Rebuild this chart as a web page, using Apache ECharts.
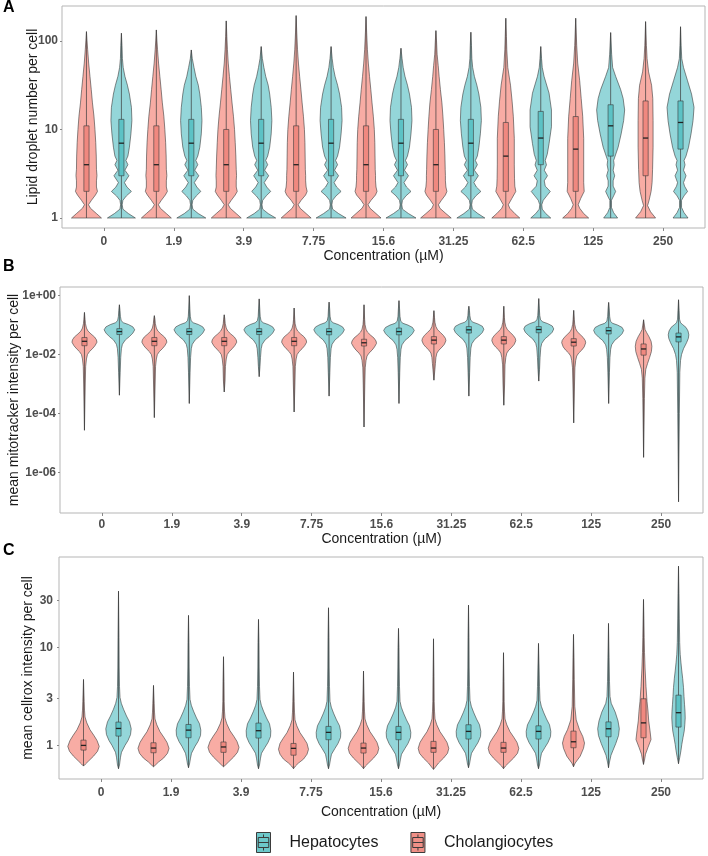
<!DOCTYPE html>
<html><head><meta charset="utf-8">
<script src="https://cdn.jsdelivr.net/npm/echarts@6/dist/echarts.min.js"></script>
<style>html,body{margin:0;padding:0;background:#fff}#c{width:708px;height:856px}</style>
</head><body><div id="c"></div>
<script>
// ---------- DATA ----------
const categories = ['0','1.9','3.9','7.75','15.6','31.25','62.5','125','250'];
const groups = ['Hepatocytes','Cholangiocytes'];

// Violin outlines: [log10(value), relative density]; boxes: [log10 q1, log10 median, log10 q3]
// Panel A : lipid droplet number per cell
const aCholProfiles = [
 [[0,15],[0.05,10],[0.11,4],[0.15,2],[0.2,5],[0.26,9],[0.3,11],[0.35,10],[0.42,10],[0.48,10.5],[0.55,10],[0.7,9.8],[0.85,9.3],[1,8.5],[1.15,7.5],[1.3,6],[1.45,4.8],[1.6,3.5],[1.75,2.2],[1.9,1.2],[2,0.6],[2.105,0]],
 [[0,15],[0.05,10],[0.11,4],[0.15,2],[0.2,5],[0.26,9],[0.3,11],[0.35,10],[0.42,10],[0.48,10.5],[0.55,10],[0.7,9.8],[0.85,9.3],[1,8.5],[1.15,7.5],[1.3,6],[1.45,4.8],[1.6,3.5],[1.75,2.2],[1.9,1.2],[2,0.6],[2.124,0]],
 [[0,15],[0.05,10],[0.11,4],[0.15,2],[0.2,5],[0.26,9],[0.3,11],[0.35,10],[0.42,10],[0.48,10.3],[0.55,10],[0.7,9.6],[0.85,9],[1,8.3],[1.15,7.2],[1.3,5.8],[1.45,4.5],[1.6,3.2],[1.75,2],[1.9,1.2],[2.05,0.6],[2.226,0]],
 [[0,15],[0.05,10],[0.11,4],[0.15,2],[0.2,5],[0.26,9.5],[0.3,11],[0.35,10],[0.42,9.5],[0.48,9.5],[0.55,9.2],[0.7,9],[0.85,8.8],[1,8.3],[1.15,7.3],[1.3,6],[1.45,4.8],[1.6,3.5],[1.75,2.3],[1.9,1.4],[2.1,0.6],[2.286,0]],
 [[0,15],[0.05,10],[0.11,4],[0.15,2],[0.2,5],[0.26,9.5],[0.3,11],[0.35,10],[0.42,9.5],[0.48,9.5],[0.55,9.2],[0.7,9],[0.85,8.8],[1,8.3],[1.15,7.3],[1.3,6],[1.45,4.8],[1.6,3.5],[1.75,2.3],[1.9,1.4],[2.1,0.6],[2.275,0]],
 [[0,15.3],[0.05,10],[0.11,4],[0.15,2.5],[0.2,5.5],[0.26,9.5],[0.3,11],[0.35,10],[0.42,9.5],[0.48,9.5],[0.55,9.3],[0.7,9],[0.85,8.5],[1,7.8],[1.15,7],[1.3,6],[1.45,4.5],[1.6,3.2],[1.72,2.3],[1.85,1.2],[2,0.6],[2.116,0]],
 [[0,14],[0.05,9],[0.11,4],[0.15,2.5],[0.22,6],[0.3,10],[0.36,9],[0.45,8.7],[0.6,8.5],[0.9,8.5],[1.15,7.5],[1.32,6.3],[1.5,4.7],[1.7,2],[1.9,1],[2.05,0.6],[2.256,0]],
 [[0,13],[0.05,8],[0.11,4],[0.15,2.5],[0.22,5],[0.3,8.5],[0.4,8],[0.6,8],[0.9,8],[1.15,7],[1.35,5.5],[1.55,4],[1.75,2],[1.95,1],[2.1,0.5],[2.256,0]],
 [[0,10],[0.07,5],[0.14,2],[0.2,3.5],[0.3,5.5],[0.4,6.5],[0.55,7],[0.8,7.5],[1.1,7.5],[1.35,7.2],[1.5,6],[1.65,3],[1.8,1.5],[1.95,0.8],[2.218,0]]
];
const aHepProfiles = [
 [[0,14],[0.05,7],[0.1,1.5],[0.15,0.8],[0.2,1.5],[0.25,5],[0.3,10],[0.35,5.5],[0.4,3],[0.477,7.5],[0.54,3.5],[0.602,6.5],[0.65,4.5],[0.7,6.5],[0.8,8],[0.95,9.5],[1.1,10.5],[1.25,10],[1.4,8],[1.5,6],[1.6,3.5],[1.7,1.8],[1.8,1],[1.95,0.6],[2.087,0]],
 [[0,14.5],[0.05,7],[0.1,1.5],[0.15,0.8],[0.2,1.5],[0.25,5],[0.3,9.5],[0.35,5.5],[0.4,3],[0.477,7.5],[0.54,3.5],[0.602,6.5],[0.65,4.5],[0.7,6.5],[0.8,8.5],[0.95,10],[1.1,10.7],[1.25,10],[1.4,8.5],[1.5,7],[1.6,4.5],[1.7,2.7],[1.8,1],[1.898,0]],
 [[0,14.5],[0.05,7],[0.1,1.5],[0.15,0.8],[0.2,1.5],[0.25,5],[0.3,9.5],[0.35,5.5],[0.4,3],[0.477,7.5],[0.54,3.5],[0.602,6.5],[0.65,4.5],[0.7,6.5],[0.8,8.5],[0.95,10],[1.1,10.7],[1.25,10],[1.4,8.5],[1.5,7],[1.6,4.5],[1.7,2.7],[1.8,1.2],[1.936,0]],
 [[0,15],[0.05,7.5],[0.1,1.5],[0.15,0.8],[0.2,1.5],[0.25,5],[0.3,10],[0.35,5.5],[0.4,3],[0.477,7.5],[0.54,3.5],[0.602,6.5],[0.65,4.5],[0.7,6.5],[0.8,8.5],[0.95,10],[1.1,11],[1.25,10.5],[1.4,8.5],[1.5,6.5],[1.6,4],[1.7,2.2],[1.8,1.1],[1.936,0]],
 [[0,15],[0.05,7.5],[0.1,1.5],[0.15,0.8],[0.2,1.5],[0.25,5],[0.3,10],[0.35,5.5],[0.4,3],[0.477,7.5],[0.54,3.5],[0.602,6.5],[0.65,4.5],[0.7,6.5],[0.8,8.5],[0.95,10],[1.1,11],[1.25,10.5],[1.4,8.5],[1.5,6.5],[1.6,4],[1.7,2.2],[1.8,1.1],[1.917,0]],
 [[0,14],[0.05,7],[0.1,1.5],[0.15,0.8],[0.2,1.5],[0.25,5],[0.3,10],[0.35,5.5],[0.4,3],[0.477,7.5],[0.54,3.5],[0.602,6.5],[0.65,4.5],[0.7,6.5],[0.8,8],[0.95,9.5],[1.1,10.5],[1.25,10],[1.4,8],[1.5,6],[1.6,3.5],[1.7,1.8],[1.8,1],[1.95,0.6],[2.098,0]],
 [[0,10],[0.05,5],[0.1,1.5],[0.15,1],[0.2,2.5],[0.25,6],[0.3,9.5],[0.36,4.5],[0.42,3.5],[0.477,6.7],[0.54,3.5],[0.6,5.7],[0.65,4.5],[0.72,6.5],[0.84,8.3],[1.03,10.7],[1.22,10.7],[1.41,8.3],[1.6,3.3],[1.7,1.5],[1.8,0.8],[1.936,0]],
 [[0,7],[0.06,3],[0.12,0.8],[0.2,0.8],[0.25,3],[0.3,5],[0.36,2.5],[0.42,2.5],[0.477,4],[0.54,2.5],[0.6,3.5],[0.65,3],[0.7,4.5],[0.8,7.5],[0.95,10.5],[1.1,13],[1.22,14],[1.35,12.5],[1.45,10],[1.6,5],[1.7,2],[1.85,1],[2.094,0]],
 [[0,7.5],[0.06,3.5],[0.12,1],[0.2,1],[0.25,3.5],[0.3,7],[0.36,4],[0.4,3],[0.477,5.5],[0.54,3],[0.6,4.5],[0.65,3.5],[0.7,5.5],[0.8,8],[0.95,10.5],[1.1,12.5],[1.25,13.5],[1.4,11],[1.55,7],[1.7,3],[1.8,1.2],[1.95,0.6],[2.16,0]]
];
const aCholBoxes = [[0.301,0.602,1.041],[0.301,0.602,1.041],[0.301,0.602,1],[0.301,0.602,1.041],[0.301,0.602,1.041],[0.301,0.602,1],[0.301,0.699,1.079],[0.301,0.778,1.146],[0.477,0.903,1.322]];
const aHepBoxes  = [[0.477,0.845,1.114],[0.477,0.845,1.114],[0.477,0.845,1.114],[0.477,0.845,1.114],[0.477,0.845,1.114],[0.477,0.845,1.114],[0.602,0.903,1.204],[0.699,1.041,1.279],[0.778,1.079,1.322]];

// Panel B : mean mitotracker intensity per cell
const bCholProfiles = [
 [[-4.57,0],[-3,0.8],[-2.4,1.2],[-2.15,2],[-2,3],[-1.9,5],[-1.8,8],[-1.7,10.5],[-1.58,12.5],[-1.5,12],[-1.4,10],[-1.3,6.5],[-1.2,3.5],[-1.1,2],[-0.95,1],[-0.8,0.6],[-0.57,0]],
 [[-4.14,0],[-3,0.8],[-2.4,1.2],[-2.15,2],[-2,3],[-1.9,5],[-1.8,8],[-1.7,10.5],[-1.58,12.5],[-1.5,12],[-1.4,10],[-1.3,6.5],[-1.2,3.5],[-1.1,2],[-0.95,1],[-0.8,0.6],[-0.68,0]],
 [[-3.27,0],[-2.9,0.8],[-2.4,1.2],[-2.15,2],[-2,3],[-1.9,5],[-1.8,8],[-1.7,10.5],[-1.58,12.5],[-1.5,12],[-1.4,10],[-1.3,6.5],[-1.2,3.5],[-1.1,2],[-0.95,1],[-0.8,0.6],[-0.65,0]],
 [[-3.95,0],[-3,0.8],[-2.4,1.2],[-2.15,2],[-2,3],[-1.9,5],[-1.8,8],[-1.7,10.5],[-1.58,12.5],[-1.5,12],[-1.4,10],[-1.3,6.5],[-1.2,3.5],[-1.1,2],[-0.95,1],[-0.8,0.6],[-0.42,0]],
 [[-4.46,0],[-3,0.8],[-2.45,1.2],[-2.2,2],[-2.05,3],[-1.95,5],[-1.85,8],[-1.74,10.5],[-1.62,12.5],[-1.54,12],[-1.44,10],[-1.34,6.5],[-1.24,3.5],[-1.14,2],[-0.98,1],[-0.8,0.6],[-0.31,0]],
 [[-2.87,0],[-2.5,1],[-2.3,1.5],[-2.1,2],[-1.95,3],[-1.85,5],[-1.75,8],[-1.65,10.5],[-1.53,12],[-1.45,11.5],[-1.35,9.5],[-1.25,6.5],[-1.15,3.5],[-1.05,2],[-0.9,1],[-0.75,0.6],[-0.51,0]],
 [[-3.72,0],[-3,0.8],[-2.35,1.2],[-2.1,2],[-1.95,3],[-1.85,5],[-1.75,8],[-1.65,10.5],[-1.53,12],[-1.45,11.5],[-1.35,9.5],[-1.25,6.5],[-1.15,3.5],[-1.05,2],[-0.9,1],[-0.75,0.6],[-0.36,0]],
 [[-4.32,0],[-3,0.8],[-2.45,1.2],[-2.2,2],[-2.05,3],[-1.95,5],[-1.85,8],[-1.74,10.5],[-1.6,12],[-1.52,11.5],[-1.42,9.5],[-1.32,6.5],[-1.22,3.5],[-1.12,2],[-0.97,1],[-0.8,0.6],[-0.5,0]],
 [[-5.49,0],[-3.5,0.8],[-2.8,1.3],[-2.5,2.2],[-2.3,4],[-2.1,6],[-1.9,7.8],[-1.72,8.3],[-1.55,7.5],[-1.4,5.5],[-1.25,3],[-1.15,1.5],[-1,0.8],[-0.82,0]]
];
const bHepProfiles = [
 [[-3.38,0],[-2.6,0.8],[-2.1,1.3],[-1.8,2],[-1.65,3],[-1.5,6],[-1.39,10],[-1.27,13.5],[-1.16,15.3],[-1.06,13.5],[-0.98,9],[-0.92,4],[-0.85,1.8],[-0.7,1],[-0.5,0.6],[-0.31,0]],
 [[-3.66,0],[-2.6,0.8],[-2.1,1.3],[-1.8,2],[-1.65,3],[-1.5,6],[-1.39,10],[-1.27,13.5],[-1.16,15.3],[-1.06,13.5],[-0.98,9],[-0.92,4],[-0.85,1.8],[-0.7,1],[-0.45,0.6],[0,0]],
 [[-2.75,0],[-2.4,0.8],[-2.1,1.3],[-1.8,2],[-1.65,3],[-1.5,6],[-1.39,10],[-1.27,13.5],[-1.16,15.3],[-1.06,13.5],[-0.98,9],[-0.92,4],[-0.85,1.8],[-0.7,1],[-0.45,0.6],[-0.11,0]],
 [[-3.41,0],[-2.6,0.8],[-2.1,1.3],[-1.8,2],[-1.65,3],[-1.5,6],[-1.39,10],[-1.27,13.5],[-1.16,15.3],[-1.06,13.5],[-0.98,9],[-0.92,4],[-0.85,1.8],[-0.7,1],[-0.45,0.6],[-0.22,0]],
 [[-3.66,0],[-2.6,0.8],[-2.1,1.3],[-1.82,2],[-1.67,3],[-1.52,6],[-1.41,10],[-1.29,13.5],[-1.18,15.3],[-1.08,13.5],[-1,9],[-0.94,4],[-0.87,1.8],[-0.7,1],[-0.45,0.6],[-0.17,0]],
 [[-3.41,0],[-2.6,0.8],[-2.1,1.3],[-1.78,2],[-1.63,3],[-1.48,6],[-1.37,10],[-1.25,13.5],[-1.14,15],[-1.04,13.5],[-0.96,9],[-0.9,4],[-0.83,1.8],[-0.68,1],[-0.5,0.6],[-0.36,0]],
 [[-2.9,0],[-2.5,0.8],[-2.1,1.3],[-1.77,2],[-1.62,3],[-1.47,6],[-1.36,10],[-1.24,13.5],[-1.13,15],[-1.03,13.5],[-0.95,9],[-0.89,4],[-0.82,1.8],[-0.67,1],[-0.45,0.6],[-0.1,0]],
 [[-3.66,0],[-2.6,0.8],[-2.1,1.3],[-1.82,2],[-1.67,3],[-1.52,6],[-1.41,10],[-1.29,13.5],[-1.18,15],[-1.08,13.5],[-1,9],[-0.94,4],[-0.87,1.8],[-0.7,1],[-0.45,0.6],[-0.23,0]],
 [[-7,0],[-4,0.8],[-2.6,1.3],[-2.2,2],[-2,3],[-1.8,5],[-1.6,8],[-1.45,9.8],[-1.33,10.3],[-1.2,9.5],[-1.08,7.5],[-0.98,4],[-0.92,2],[-0.8,1],[-0.5,0.6],[-0.14,0]]
];
const bCholBoxes = [[-1.7,-1.55,-1.42],[-1.7,-1.55,-1.42],[-1.7,-1.55,-1.42],[-1.7,-1.55,-1.42],[-1.71,-1.6,-1.48],[-1.64,-1.51,-1.39],[-1.64,-1.51,-1.39],[-1.71,-1.58,-1.46],[-2.02,-1.81,-1.64]];
const bHepBoxes  = [[-1.32,-1.22,-1.12],[-1.32,-1.22,-1.12],[-1.32,-1.22,-1.12],[-1.33,-1.22,-1.12],[-1.33,-1.22,-1.1],[-1.27,-1.16,-1.05],[-1.26,-1.15,-1.05],[-1.3,-1.19,-1.08],[-1.57,-1.4,-1.27]];

// Panel C : mean cellrox intensity per cell
const cCholProfiles = [
 [[-0.211,0],[-0.19,2],[-0.16,5],[-0.11,10],[-0.06,14],[-0.01,15.7],[0.05,13.5],[0.1,10.5],[0.16,6.5],[0.23,3.3],[0.29,1.5],[0.36,1],[0.45,0.7],[0.673,0]],
 [[-0.218,0],[-0.2,2],[-0.17,5],[-0.13,10],[-0.08,14],[-0.03,15.5],[0.03,13.5],[0.08,10.5],[0.14,6.5],[0.21,3.3],[0.27,1.5],[0.34,1],[0.43,0.7],[0.612,0]],
 [[-0.218,0],[-0.2,2],[-0.17,5],[-0.12,10],[-0.07,14],[-0.02,15.5],[0.04,13.5],[0.09,10.5],[0.15,6.5],[0.22,3.3],[0.28,1.5],[0.35,1],[0.45,0.7],[0.65,0.5],[0.905,0]],
 [[-0.238,0],[-0.21,2],[-0.18,5],[-0.14,10],[-0.09,13.5],[-0.04,15],[0.02,13.5],[0.07,10.5],[0.13,6.5],[0.2,3.3],[0.26,1.5],[0.34,1],[0.45,0.7],[0.748,0]],
 [[-0.238,0],[-0.21,2],[-0.18,5],[-0.13,10],[-0.08,14],[-0.03,15.3],[0.03,13.5],[0.08,10.5],[0.14,6.5],[0.21,3.3],[0.27,1.5],[0.35,1],[0.45,0.7],[0.759,0]],
 [[-0.245,0],[-0.22,2],[-0.18,5],[-0.13,10],[-0.08,14],[-0.03,15.3],[0.03,13.5],[0.08,10.5],[0.14,6.5],[0.21,3.3],[0.27,1.5],[0.35,1],[0.45,0.7],[0.7,0.5],[1.088,0]],
 [[-0.238,0],[-0.21,2],[-0.18,5],[-0.13,10],[-0.08,14],[-0.03,15.3],[0.03,13.5],[0.08,10.5],[0.14,6.5],[0.21,3.3],[0.27,1.5],[0.35,1],[0.45,0.7],[0.65,0.5],[0.946,0]],
 [[-0.218,0],[-0.18,1.7],[-0.11,6.7],[-0.03,10],[0.024,11],[0.09,9.3],[0.16,6],[0.26,2.7],[0.4,1.3],[0.67,0.8],[0.9,0.5],[1.133,0]],
 [[-0.194,0],[-0.15,1],[-0.09,2],[-0.02,4.5],[0.06,7.5],[0.15,6.5],[0.25,5.2],[0.35,4.5],[0.45,3.5],[0.6,2.5],[0.78,1.6],[0.95,1],[1.1,0.7],[1.3,0.4],[1.49,0]]
];
const cHepProfiles = [
 [[-0.238,0],[-0.2,1],[-0.12,2],[-0.07,3],[0,6.5],[0.05,9.5],[0.11,12],[0.17,12.7],[0.24,11],[0.3,8],[0.37,5],[0.43,2.8],[0.49,1.5],[0.6,1],[0.8,0.7],[1.1,0.5],[1.575,0]],
 [[-0.228,0],[-0.19,1],[-0.13,2],[-0.08,3],[-0.01,6.5],[0.04,9.5],[0.1,12],[0.156,12.3],[0.22,11],[0.28,8],[0.35,5],[0.41,2.8],[0.47,1.5],[0.6,1],[0.8,0.7],[1.05,0.5],[1.327,0]],
 [[-0.238,0],[-0.2,1],[-0.13,2],[-0.08,3],[-0.02,6.5],[0.03,9.5],[0.09,12],[0.15,12.3],[0.22,11],[0.28,8],[0.35,5],[0.41,2.8],[0.47,1.5],[0.6,1],[0.8,0.7],[1.05,0.5],[1.286,0]],
 [[-0.238,0],[-0.2,1],[-0.14,2],[-0.09,3],[-0.03,6.5],[0.02,9.5],[0.08,12],[0.133,12.3],[0.2,11],[0.26,8],[0.33,5],[0.39,2.8],[0.45,1.5],[0.6,1],[0.8,0.7],[1.1,0.5],[1.405,0]],
 [[-0.238,0],[-0.2,1],[-0.14,2],[-0.09,3],[-0.03,6.5],[0.02,9.5],[0.08,12],[0.133,12.3],[0.2,11],[0.26,8],[0.33,5],[0.39,2.8],[0.45,1.5],[0.6,1],[0.8,0.7],[1,0.5],[1.194,0]],
 [[-0.228,0],[-0.19,1],[-0.13,2],[-0.08,3],[-0.02,6.5],[0.03,9.5],[0.09,12],[0.143,12.3],[0.21,11],[0.27,8],[0.34,5],[0.4,2.8],[0.46,1.5],[0.6,1],[0.8,0.7],[1.1,0.5],[1.432,0]],
 [[-0.238,0],[-0.2,1],[-0.13,2],[-0.08,3],[-0.02,6.5],[0.03,9.5],[0.09,12],[0.143,12.3],[0.21,11],[0.27,8],[0.34,5],[0.4,2.8],[0.46,1.5],[0.6,1],[0.8,0.6],[1.041,0]],
 [[-0.228,0],[-0.17,1],[-0.1,2.5],[-0.05,4.5],[0.02,7.3],[0.1,10],[0.17,10.8],[0.25,9.5],[0.34,6.7],[0.43,2.7],[0.5,1.5],[0.65,1],[0.9,0.6],[1.245,0]],
 [[-0.187,0],[-0.12,1.3],[-0.05,2.5],[0.01,3.3],[0.08,4.5],[0.146,5.7],[0.21,6.3],[0.28,6.7],[0.35,6.5],[0.42,6],[0.5,5.5],[0.59,5],[0.68,4.2],[0.76,3.3],[0.85,2.4],[0.93,1.7],[1.05,1.2],[1.3,0.8],[1.55,0.5],[1.83,0]]
];
const cCholBoxes = [[-0.048,0,0.054],[-0.075,-0.027,0.027],[-0.071,-0.016,0.035],[-0.1,-0.03,0.02],[-0.078,-0.027,0.024],[-0.071,-0.027,0.041],[-0.071,-0.027,0.031],[-0.024,0.037,0.146],[0.078,0.23,0.476]];
const cHepBoxes  = [[0.095,0.173,0.238],[0.078,0.156,0.214],[0.075,0.15,0.228],[0.058,0.133,0.194],[0.058,0.133,0.194],[0.065,0.143,0.211],[0.065,0.143,0.2],[0.088,0.17,0.24],[0.187,0.334,0.513]];

// Axis ticks
const aTickValues = [1, 10, 100];           const aTickLabels = ['1','10','100'];
const bTickValues = [1, 1e-2, 1e-4, 1e-6];  const bTickLabels = ['1e+00','1e-02','1e-04','1e-06'];
const cTickValues = [1, 3, 10, 30];         const cTickLabels = ['1','3','10','30'];
const yTitles = ['Lipid droplet number per cell','mean mitotracker intensity per cell','mean cellrox intensity per cell'];
const xTitle = 'Concentration (\u00B5M)';

// ---------- STYLE ----------
const FONT = 'Liberation Sans, Arial, sans-serif';
const COL = {
  Hepatocytes:   {fill:'#94d6d9', box:'#5cc2c5', legend:'#6cc8ca'},
  Cholangiocytes:{fill:'#f8aca4', box:'#f0887f', legend:'#ef8f86'}
};
const DODGE = 0.25;       // x offset of each group
const DENS_X = 1/69.9;    // x units per density unit
const BOX_HALF = 0.037;   // half box width in x units
const STROKE = '#3b3b3b';

function renderer(profiles, boxes, offset, c) {
  return function (params, api) {
    const i = params.dataIndex;
    const cx = api.value(0) + offset;
    const prof = profiles[i];
    const P = l => Math.pow(10, l);
    const right = prof.map(p => api.coord([cx + p[1]*DENS_X, P(p[0])]));
    const left = prof.slice().reverse().map(p => api.coord([cx - p[1]*DENS_X, P(p[0])]));
    const pts = right.concat(left);
    const lo = api.coord([cx, P(prof[0][0])]);
    const hi = api.coord([cx, P(prof[prof.length-1][0])]);
    const b = boxes[i];
    const q1 = api.coord([cx - BOX_HALF, P(b[0])]);
    const q3 = api.coord([cx + BOX_HALF, P(b[2])]);
    const mdL = api.coord([cx - BOX_HALF, P(b[1])]);
    const mdR = api.coord([cx + BOX_HALF, P(b[1])]);
    return {type:'group', children:[
      {type:'polygon', shape:{points:pts}, style:{fill:c.fill, stroke:STROKE, lineWidth:0.6}},
      {type:'line', shape:{x1:lo[0],y1:lo[1],x2:hi[0],y2:hi[1]}, style:{stroke:STROKE, lineWidth:0.7}},
      {type:'rect', shape:{x:q1[0], y:q3[1], width:q3[0]-q1[0], height:q1[1]-q3[1]}, style:{fill:c.box, stroke:STROKE, lineWidth:0.6}},
      {type:'line', shape:{x1:mdL[0],y1:mdL[1],x2:mdR[0],y2:mdR[1]}, style:{stroke:'#222', lineWidth:1.3}}
    ]};
  };
}

const panels = [
  {grid:{left:62, right:3, top:6, height:222}, ymin:0.771, ymax:248, tv:aTickValues, tl:aTickLabels,
   chol:[aCholProfiles,aCholBoxes], hep:[aHepProfiles,aHepBoxes], ylabMargin:4, yNameGap:22, xNameGap:21, xLabMargin:8},
  {grid:{left:60, right:5, top:287, height:226}, ymin:Math.pow(10,-7.38), ymax:Math.pow(10,0.294), tv:bTickValues, tl:bTickLabels,
   chol:[bCholProfiles,bCholBoxes], hep:[bHepProfiles,bHepBoxes], ylabMargin:4, yNameGap:39, xNameGap:19, xLabMargin:6},
  {grid:{left:59, right:5, top:557, height:222}, ymin:0.454, ymax:83.8, tv:cTickValues, tl:cTickLabels,
   chol:[cCholProfiles,cCholBoxes], hep:[cHepProfiles,cHepBoxes], ylabMargin:6, yNameGap:24, xNameGap:26, xLabMargin:8}
];

const grid = [], xAxis = [], yAxis = [], series = [];
panels.forEach((p, k) => {
  grid.push(Object.assign({show:true, borderColor:'#b5b5b5', borderWidth:1, backgroundColor:'#fff', containLabel:false, outerBoundsMode:'none'}, p.grid));
  xAxis.push({type:'value', gridIndex:k, min:0.4, max:9.6,
    name:xTitle, nameLocation:'middle', nameGap:p.xNameGap, nameMoveOverlap:false,
    nameTextStyle:{fontSize:14, color:'#1a1a1a', fontFamily:FONT},
    axisLine:{show:false}, splitLine:{show:false},
    axisTick:{show:true, length:3, customValues:[1,2,3,4,5,6,7,8,9], lineStyle:{color:'#888', width:1}},
    axisLabel:{customValues:[1,2,3,4,5,6,7,8,9], margin:p.xLabMargin, fontSize:12, fontWeight:'bold', color:'#4d4d4d', fontFamily:FONT,
      formatter: v => categories[Math.round(v)-1]}
  });
  yAxis.push({type:'log', logBase:10, gridIndex:k, min:p.ymin, max:p.ymax,
    name:yTitles[k], nameLocation:'middle', nameGap:p.yNameGap, nameMoveOverlap:false,
    nameTextStyle:{fontSize:14, color:'#1a1a1a', fontFamily:FONT},
    axisLine:{show:false}, splitLine:{show:false},
    axisTick:{show:true, length:2, customValues:p.tv, lineStyle:{color:'#888', width:1}},
    axisLabel:{customValues:p.tv, margin:p.ylabMargin, fontSize:12, fontWeight:'bold', color:'#4d4d4d', fontFamily:FONT,
      formatter: v => { let bi = 0, bd = Infinity; p.tv.forEach((t, j) => { const d = Math.abs(Math.log10(t) - Math.log10(v)); if (d < bd) { bd = d; bi = j; } }); return p.tl[bi]; }}
  });
  [['Cholangiocytes', p.chol, -DODGE], ['Hepatocytes', p.hep, DODGE]].forEach(([name, d, off]) => {
    series.push({type:'custom', name, xAxisIndex:k, yAxisIndex:k,
      itemStyle:{color:COL[name].legend, borderColor:STROKE},
      renderItem: renderer(d[0], d[1], off, COL[name]),
      encode:{x:0, y:1},
      data: categories.map((c, i) => [i+1, Math.pow(10, d[1][i][1])]),
      silent:true, animation:false});
  });
});

const iconPath = 'path://M0,0H14V20H0Z M1.75,5H12.25V15H1.75Z M1.75,10H12.25 M7,2V5 M7,15V18';
const option = {
  animation:false,
  title:[
    {text:'A', left:3, top:0, padding:0, textStyle:{fontSize:16, fontWeight:'bold', color:'#000', fontFamily:FONT}},
    {text:'B', left:3, top:259, padding:0, textStyle:{fontSize:16, fontWeight:'bold', color:'#000', fontFamily:FONT}},
    {text:'C', left:3, top:543, padding:0, textStyle:{fontSize:16, fontWeight:'bold', color:'#000', fontFamily:FONT}}
  ],
  legend:{left:256, top:832, itemWidth:14, itemHeight:20, itemGap:32, padding:0,
    textStyle:{fontSize:16, color:'#1a1a1a', fontFamily:FONT, padding:[0,0,0,14]},
    data:groups.map(g => ({name:g, icon:iconPath, itemStyle:{color:COL[g].legend, borderColor:'#3b3b3b', borderWidth:1}}))},
  grid, xAxis, yAxis, series
};
const chart = echarts.init(document.getElementById('c'), null, {renderer:'canvas'});
chart.setOption(option);
</script></body></html>
